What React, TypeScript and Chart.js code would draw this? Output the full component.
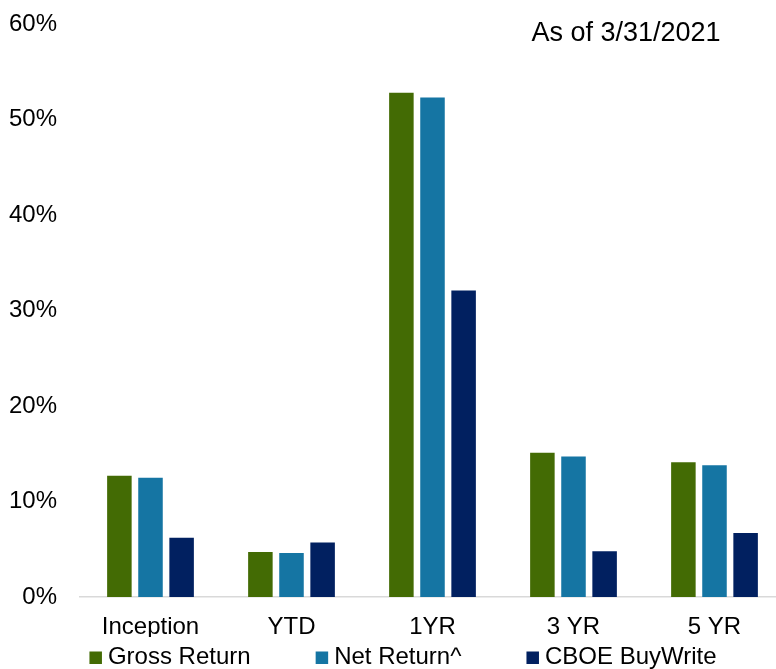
import React, { useEffect, useRef } from "react";
import { Chart, registerables } from "chart.js";

Chart.register(...registerables);

const categories = ["Inception", "YTD", "1YR", "3 YR", "5 YR"];
const grossReturn = [12.7, 4.7, 52.8, 15.1, 14.1];
const netReturn = [12.5, 4.6, 52.3, 14.7, 13.8];
const cboeBuyWrite = [6.2, 5.7, 32.1, 4.8, 6.7];
const seriesNames = ["Gross Return", "Net Return^", "CBOE BuyWrite"];
const seriesColors = ["#436B04", "#1575A3", "#012060"];
const asOfText = "As of 3/31/2021";

const FONT = "'Liberation Sans', Arial, sans-serif";

const annotationPlugin = {
  id: "asOfAndLegend",
  afterDraw(chart: any) {
    const ctx = chart.ctx;
    const area = chart.chartArea;
    ctx.save();
    // As-of note
    ctx.fillStyle = "#000";
    ctx.font = `27px ${FONT}`;
    ctx.textAlign = "center";
    ctx.textBaseline = "middle";
    ctx.fillText(asOfText, area.left + 546, area.top + 10);

    // Legend
    ctx.font = `24px ${FONT}`;
    ctx.textAlign = "left";
    ctx.textBaseline = "alphabetic";
    const box = 12.5;
    const boxGap = 6;
    const itemGap = 65;
    const items = chart.data.datasets.map((d: any) => ({
      label: d.label,
      color: d.backgroundColor,
      w: box + boxGap + ctx.measureText(d.label).width,
    }));
    const total = items.reduce((s: number, it: any) => s + it.w, 0) + itemGap * (items.length - 1);
    let x = 403 - total / 2;
    const baseline = area.bottom + 67;
    items.forEach((it: any) => {
      ctx.fillStyle = it.color;
      ctx.fillRect(x, baseline - box, box, box);
      ctx.fillStyle = "#000";
      ctx.fillText(it.label, x + box + boxGap, baseline);
      x += it.w + itemGap;
    });
    ctx.restore();
  },
};

export default function App() {
  const canvasRef = useRef<HTMLCanvasElement | null>(null);

  useEffect(() => {
    if (!canvasRef.current) return;
    const chart = new Chart(canvasRef.current, {
      type: "bar",
      data: {
        labels: categories,
        datasets: [grossReturn, netReturn, cboeBuyWrite].map((vals, i) => ({
          label: seriesNames[i],
          data: vals,
          backgroundColor: seriesColors[i],
          borderWidth: 0,
          categoryPercentage: 0.662,
          barPercentage: 0.788,
        })),
      },
      options: {
        responsive: false,
        animation: false,
        layout: { padding: { top: 24, left: 0, right: 0, bottom: 32 } },
        plugins: {
          legend: { display: false },
          tooltip: { enabled: false },
          title: { display: false },
        },
        scales: {
          x: {
            grid: { display: false, drawTicks: false },
            border: { display: true, color: "#D9D9D9", width: 1.5 },
            ticks: {
              color: "#000",
              font: { family: FONT, size: 24 },
              padding: 16,
              maxRotation: 0,
            },
            afterFit: (scale: any) => {
              scale.height = 40;
            },
          },
          y: {
            min: 0,
            max: 60,
            grid: { display: false, drawTicks: false },
            border: { display: false },
            ticks: {
              stepSize: 10,
              color: "#000",
              font: { family: FONT, size: 24 },
              padding: 23,
              callback: (v: any) => `${v}%`,
            },
            afterFit: (scale: any) => {
              scale.width = 80;
              scale.paddingTop = 0;
              scale.paddingBottom = 0;
            },
          },
        },
      },
      plugins: [annotationPlugin],
    });
    return () => chart.destroy();
  }, []);

  return (
    <div
      style={{
        position: "absolute",
        left: 0,
        top: 0,
        width: 776,
        height: 669,
        overflow: "hidden",
        background: "#fff",
      }}
    >
      <canvas ref={canvasRef} width={785} height={669} style={{ display: "block" }} />
    </div>
  );
}
